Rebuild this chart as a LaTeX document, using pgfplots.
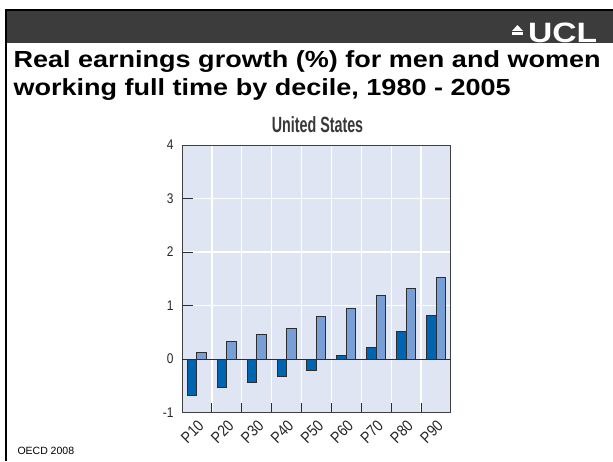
\documentclass[border=0pt]{standalone}
\usepackage{pgfplots}
\pgfplotsset{compat=1.18}
\usepackage{fontspec}
\setmainfont{Liberation Sans}
\newfontfamily\titlefont[FakeStretch=1.16]{Liberation Sans}
\newfontfamily\logofont[FakeStretch=1.2]{Liberation Sans}
\newfontfamily\condfont[FakeStretch=0.65]{Liberation Sans}
\newfontfamily\tickfont[FakeStretch=0.85]{Liberation Sans}
\definecolor{topbar}{RGB}{60,60,60}
\definecolor{plotbg}{RGB}{223,229,243}
\definecolor{darkbar}{RGB}{0,101,176}
\definecolor{lightbar}{RGB}{120,158,214}
\definecolor{edge}{RGB}{45,45,45}
\begin{document}
\begin{tikzpicture}[x=1pt,y=1pt]
\path[use as bounding box] (0,0) rectangle (613,461);
% slide header
\fill[topbar] (6,417.5) rectangle (613,451);
\draw[black,line width=2pt] (6,0) -- (6,451) -- (613,451);
\node[anchor=base west,inner sep=0,text=white,font=\logofont\bfseries\fontsize{28}{28}\selectfont] at (528,418.5) {UCL};
\fill[white] (512,430) -- (517.5,436) -- (523,430) -- cycle;
\fill[white] (512,426) rectangle (523,428.5);
\node[anchor=base west,inner sep=0,font=\titlefont\bfseries\fontsize{23.3}{28}\selectfont] at (13.3,393) {Real earnings growth (\%) for men and women};
\node[anchor=base west,inner sep=0,font=\titlefont\bfseries\fontsize{23.3}{28}\selectfont] at (13.3,365) {working full time by decile, 1980 - 2005};
\node[anchor=base west,inner sep=0,font=\fontsize{10.5}{12}\selectfont] at (17.3,7) {OECD 2008};
\node[anchor=base,inner sep=0,text=black!78,font=\condfont\bfseries\fontsize{22}{22}\selectfont] at (317.5,328) {United States};
\begin{axis}[
  at={(182pt,48.3pt)}, anchor=south west,
  scale only axis, width=269pt, height=267.7pt,
  xmin=0, xmax=9, ymin=-1, ymax=4,
  axis background/.style={fill=plotbg},
  axis line style={draw=black!75,line width=1pt},
  xtick={0.5,1.5,...,8.5},
  xticklabels={P10,P20,P30,P40,P50,P60,P70,P80,P90},
  major x tick style={draw=none},
  minor xtick={1,2,...,8},
  minor x tick style={draw=edge,line width=1pt},
  xminorgrids=true,
  minor grid style={white,line width=1.3pt},
  ytick={-1,0,...,4},
  yticklabels={-1,0,1,2,3,4},
  ymajorgrids=true,
  major grid style={white,line width=1.3pt},
  major y tick style={draw=edge,line width=1pt},
  tick align=inside,
  xtick pos=bottom, ytick pos=left,
  major tick length=11pt, minor tick length=10pt,
  yticklabel style={font=\tickfont\fontsize{14}{14}\selectfont,text=black!85,xshift=-5pt},
  xticklabel style={font=\tickfont\fontsize{16}{16}\selectfont,text=black!85,rotate=45,anchor=north east,xshift=-1pt,yshift=-1pt},
]
\addplot[ybar,bar width=9.5pt,bar shift=-4.75pt,fill=darkbar,draw=edge,line width=1pt]
  coordinates {(0.5,-0.68)(1.5,-0.53)(2.5,-0.44)(3.5,-0.32)(4.5,-0.22)(5.5,0.06)(6.5,0.22)(7.5,0.51)(8.5,0.82)};
\addplot[ybar,bar width=9.5pt,bar shift=4.75pt,fill=lightbar,draw=edge,line width=1pt]
  coordinates {(0.5,0.12)(1.5,0.335)(2.5,0.456)(3.5,0.576)(4.5,0.79)(5.5,0.94)(6.5,1.18)(7.5,1.32)(8.5,1.52)};
\draw[edge,line width=0.9pt] (axis cs:0,0) -- (axis cs:9,0);
\end{axis}
\end{tikzpicture}
\end{document}
